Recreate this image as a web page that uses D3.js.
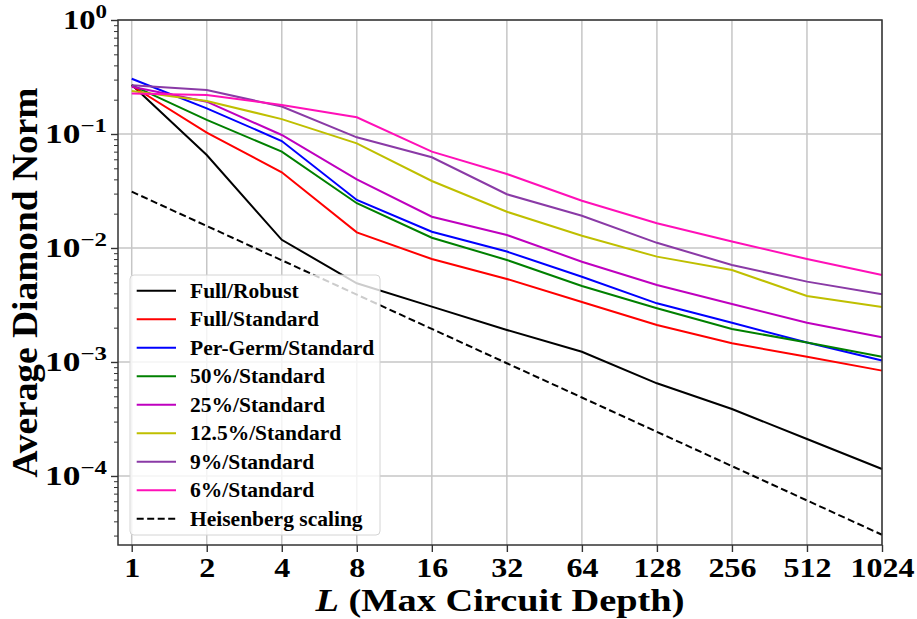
<!DOCTYPE html>
<html>
<head>
<meta charset="utf-8">
<script src="https://cdn.jsdelivr.net/npm/d3@7"></script>
<style>
  body { margin: 0; background: #fff; }
  svg text { font-family: "Liberation Serif", "DejaVu Serif", serif; font-weight: bold; fill: #000; }
</style>
</head>
<body>
<svg id="chart" width="917" height="619"></svg>
<script>
// Circuit depths
const depths = [1, 2, 4, 8, 16, 32, 64, 128, 256, 512, 1024];

// Average diamond norm per method
const fullRobust   = [0.27, 0.0654, 0.0118, 0.0049, 0.00306, 0.00191, 0.00123, 0.00065, 0.000387, 0.000211, 0.000115];
const fullStandard = [0.265, 0.1027, 0.0461, 0.0137, 0.0080, 0.00535, 0.00336, 0.00211, 0.00146, 0.00111, 0.00084];
const perGermStd   = [0.305, 0.168, 0.0868, 0.0264, 0.0139, 0.0093, 0.0056, 0.00327, 0.00221, 0.00148, 0.00103];
const pct50Std     = [0.268, 0.133, 0.070, 0.0247, 0.0123, 0.00785, 0.00464, 0.00296, 0.00195, 0.00148, 0.00111];
const pct25Std     = [0.26, 0.192, 0.098, 0.040, 0.0188, 0.013, 0.00758, 0.00473, 0.00323, 0.00221, 0.00165];
const pct125Std    = [0.238, 0.195, 0.135, 0.0828, 0.0387, 0.0208, 0.0128, 0.0084, 0.00641, 0.00379, 0.00304];
const pct9Std      = [0.268, 0.243, 0.174, 0.0935, 0.0625, 0.0296, 0.0192, 0.0111, 0.0071, 0.00507, 0.00392];
const pct6Std      = [0.227, 0.22, 0.18, 0.14, 0.070, 0.0446, 0.026, 0.0165, 0.0114, 0.0080, 0.0058];
const heisenberg   = [0.0312, 0.0156, 0.0078, 0.0039, 0.00195, 0.000975, 0.000488, 0.000244, 0.000122, 0.000061, 0.0000305];

const seriesNames = ['Full/Robust', 'Full/Standard', 'Per-Germ/Standard', '50%/Standard',
  '25%/Standard', '12.5%/Standard', '9%/Standard', '6%/Standard', 'Heisenberg scaling'];
const seriesValues = [fullRobust, fullStandard, perGermStd, pct50Std, pct25Std, pct125Std, pct9Std, pct6Std, heisenberg];
const seriesColors = ['#000000', '#ff0000', '#0000ff', '#008000', '#bf00bf', '#bfbf00', '#8a3aa6', '#ff10b8', '#000000'];

const yMajorTicks = [1, 1e-1, 1e-2, 1e-3, 1e-4];
const yTickExponents = ['0', '\u22121', '\u22122', '\u22123', '\u22124'];

const margin = { left: 118, right: 35, top: 20, bottom: 74 };
const W = 917, H = 619;
const width = W - margin.left - margin.right;
const height = H - margin.top - margin.bottom;

const svg = d3.select('#chart');
const g = svg.append('g').attr('transform', `translate(${margin.left},${margin.top})`);

const x = d3.scaleLog().base(2).domain([0.881, 1024]).range([0, width]);
const y = d3.scaleLog().domain([2.48e-5, 1]).range([height, 0]);

// grid
g.append('g').selectAll('line').data(depths).join('line')
  .attr('x1', d => x(d)).attr('x2', d => x(d))
  .attr('y1', 0).attr('y2', height)
  .attr('stroke', '#c6c6c6').attr('stroke-width', 1.5);
g.append('g').selectAll('line').data(yMajorTicks).join('line')
  .attr('x1', 0).attr('x2', width)
  .attr('y1', d => y(d)).attr('y2', d => y(d))
  .attr('stroke', '#c6c6c6').attr('stroke-width', 1.5);

// lines
const line = d3.line().x((d, i) => x(depths[i])).y(d => y(d));
seriesValues.forEach((vals, i) => {
  g.append('path')
    .datum(vals)
    .attr('d', line)
    .attr('fill', 'none')
    .attr('stroke', seriesColors[i])
    .attr('stroke-width', 2)
    .attr('stroke-dasharray', i === 8 ? '7,3.5' : null);
});

// y axis ticks (major + minor)
const yMinor = [];
for (let e = -5; e < 0; e++) for (let m = 2; m <= 9; m++) {
  const v = m * Math.pow(10, e);
  if (v >= y.domain()[0]) yMinor.push(v);
}
const yAxisG = g.append('g')
  .call(d3.axisLeft(y).tickValues(yMinor).tickSize(4).tickFormat(''));
yAxisG.select('.domain').remove();
yAxisG.selectAll('line').attr('stroke', '#333').attr('stroke-width', 1);
const yMajG = g.append('g')
  .call(d3.axisLeft(y).tickValues(yMajorTicks).tickSize(7).tickFormat(''));
yMajG.select('.domain').remove();
yMajG.selectAll('line').attr('stroke', '#333').attr('stroke-width', 1.4);

// y tick labels with superscript exponents (stretched to the wider TeX glyphs)
const yLab = g.append('g').selectAll('text').data(yMajorTicks).join('text')
  .attr('x', -11)
  .attr('y', d => y(d) + 9)
  .attr('text-anchor', 'end')
  .attr('textLength', d => d === 1 ? 44 : 62)
  .attr('lengthAdjust', 'spacingAndGlyphs')
  .style('font-size', '27px');
yLab.append('tspan').text('10');
yLab.append('tspan')
  .attr('dy', -11)
  .style('font-size', '19px')
  .text((d, i) => yTickExponents[i]);

// x axis
const xAxisG = g.append('g')
  .attr('transform', `translate(0,${height})`)
  .call(d3.axisBottom(x).tickValues(depths).tickSize(7).tickPadding(6).tickFormat(d3.format('d')));
xAxisG.select('.domain').remove();
xAxisG.selectAll('line').attr('stroke', '#333').attr('stroke-width', 1.4);
xAxisG.selectAll('text')
  .style('font-family', '"Liberation Serif", serif')
  .style('font-size', '27px')
  .style('font-weight', 'bold')
  .attr('textLength', d => String(d).length * 16)
  .attr('lengthAdjust', 'spacingAndGlyphs');

// frame
g.append('rect')
  .attr('width', width).attr('height', height)
  .attr('fill', 'none').attr('stroke', '#333').attr('stroke-width', 1.5);

// axis titles
svg.append('text')
  .attr('transform', `translate(37,${margin.top + height / 2}) rotate(-90)`)
  .attr('text-anchor', 'middle')
  .attr('textLength', 390).attr('lengthAdjust', 'spacingAndGlyphs')
  .style('font-size', '35px')
  .text('Average Diamond Norm');

const xTitle = svg.append('text')
  .attr('x', margin.left + width / 2)
  .attr('y', 611)
  .attr('text-anchor', 'middle')
  .attr('textLength', 369).attr('lengthAdjust', 'spacingAndGlyphs')
  .style('font-size', '31px');
xTitle.append('tspan').style('font-style', 'italic').text('L');
xTitle.append('tspan').text(' (Max Circuit Depth)');

// legend
const legend = svg.append('g').attr('transform', 'translate(130,275)');
legend.append('rect')
  .attr('width', 250).attr('height', 260).attr('rx', 4)
  .attr('fill', '#fff').attr('fill-opacity', 0.8)
  .attr('stroke', '#d4d4d4').attr('stroke-width', 1);
const rows = legend.selectAll('g.row').data(seriesNames).join('g')
  .attr('class', 'row')
  .attr('transform', (d, i) => `translate(0,${15.7 + i * 28.5})`);
rows.append('line')
  .attr('x1', 6.7).attr('x2', 46)
  .attr('stroke', (d, i) => seriesColors[i])
  .attr('stroke-width', 2)
  .attr('stroke-dasharray', (d, i) => i === 8 ? '7,3.5' : null);
rows.append('text')
  .attr('x', 60).attr('y', 7)
  .style('font-size', '21.5px')
  .text(d => d);
</script>
</body>
</html>
